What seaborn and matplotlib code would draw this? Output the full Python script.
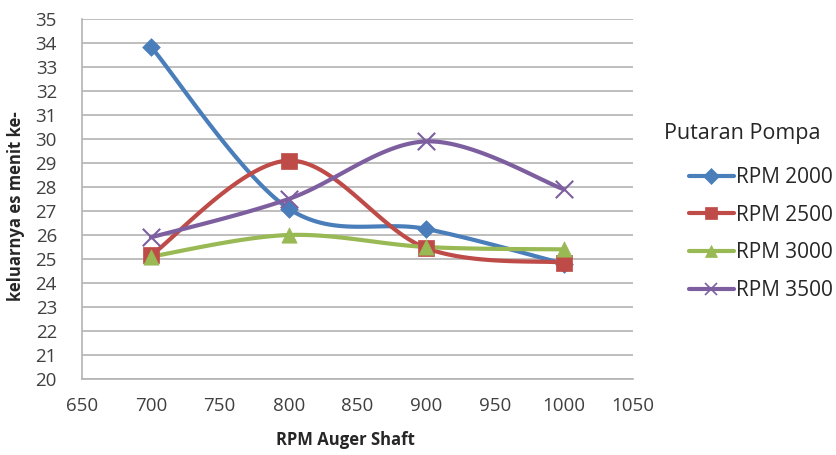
import numpy as np
import pandas as pd
import matplotlib
matplotlib.use("Agg")
import matplotlib.pyplot as plt
import seaborn as sns

x_vals = [700, 800, 900, 1000]
rpm2000 = [33.85, 27.1, 26.25, 24.8]
rpm2500 = [25.15, 29.1, 25.45, 24.85]
rpm3000 = [25.1, 26.0, 25.5, 25.4]
rpm3500 = [25.9, 27.5, 29.9, 27.9]
series_names = ["RPM 2000", "RPM 2500", "RPM 3000", "RPM 3500"]
x_ticks = [650, 700, 750, 800, 850, 900, 950, 1000, 1050]
y_ticks = list(range(20, 36))

colors = ["#4a7ebb", "#be4b48", "#98b954", "#7d5fa0"]
markers = ["D", "s", "^", "x"]
msizes = [9, 11, 11, 11]

sns.set_theme(style="white")
plt.rcParams['font.family'] = ['Open Sans', 'DejaVu Sans']


def smooth(xs, ys, n=40):
    # Excel-like smoothed line: cubic Bezier with Catmull-Rom control points
    P = np.column_stack([xs, ys]).astype(float)
    P = np.vstack([P[0], P, P[-1]])
    out = []
    for i in range(1, len(P) - 2):
        p0, p1, p2, p3 = P[i - 1], P[i], P[i + 1], P[i + 2]
        b1 = p1 + (p2 - p0) / 6.0
        b2 = p2 - (p3 - p1) / 6.0
        t = np.linspace(0, 1, n)[:, None]
        seg = ((1 - t) ** 3) * p1 + 3 * ((1 - t) ** 2) * t * b1 + 3 * (1 - t) * t ** 2 * b2 + t ** 3 * p2
        out.append(seg if i == 1 else seg[1:])
    c = np.vstack(out)
    return c[:, 0], c[:, 1]


fig = plt.figure(figsize=(8.37, 4.55), dpi=100)
ax = fig.add_axes([82 / 837, 1 - 379 / 455, (633 - 82) / 837, (379 - 19) / 455])

all_series = [rpm2000, rpm2500, rpm3000, rpm3500]
handles = []
for name, ys, col, mk, ms in zip(series_names, all_series, colors, markers, msizes):
    sx, sy = smooth(x_vals, ys)
    df_line = pd.DataFrame({"x": sx, "y": sy})
    sns.lineplot(data=df_line, x="x", y="y", ax=ax, color=col, linewidth=3,
                 sort=False, estimator=None)
    df_pts = pd.DataFrame({"x": x_vals, "y": ys})
    if mk == "x":
        sns.scatterplot(data=df_pts, x="x", y="y", ax=ax, marker="x", color=col,
                        s=ms ** 2 * 1.3, linewidth=1.5, zorder=5)
    else:
        sns.scatterplot(data=df_pts, x="x", y="y", ax=ax, marker=mk, color=col,
                        s=ms ** 2, edgecolor=col, linewidth=0.5, zorder=5)
    h, = ax.plot([], [], color=col, linewidth=3, marker=mk, markersize=ms * 0.85,
                 markeredgecolor=col, markeredgewidth=1.2 if mk == "x" else 0.5)
    handles.append(h)

ax.set_xlim(650, 1050)
ax.set_ylim(20, 35)
ax.set_xticks(x_ticks)
ax.set_yticks(y_ticks)
ax.set_xticklabels([str(v) for v in x_ticks], fontsize=13.5, color="#404040")
ax.set_yticklabels([str(v) for v in y_ticks], fontsize=13.5, color="#404040")
ax.tick_params(axis="both", length=0)
ax.tick_params(axis="x", pad=13)
ax.tick_params(axis="y", pad=18)
ax.yaxis.grid(True, color="#b3b3b3", linewidth=1.2)
ax.xaxis.grid(False)
for s in ["top", "right"]:
    ax.spines[s].set_visible(False)
for s in ["left", "bottom"]:
    ax.spines[s].set_color("#b3b3b3")
    ax.spines[s].set_linewidth(1.2)

ax.set_xlabel("RPM Auger Shaft", fontsize=12, fontweight="bold")
ax.set_ylabel("keluarnya es menit ke-", fontsize=12, fontweight="bold")
ax.xaxis.set_label_coords((345 - 82) / 551, -(440 - 379) / 360)
ax.yaxis.set_label_coords(-(82 - 16) / 551, (379 - 206) / 360)
ax.xaxis.label.set_va("center")
ax.yaxis.label.set_va("center")

fig.text(664 / 837, 1 - 133 / 455, "Putaran Pompa", fontsize=15.5,
         va="center", ha="left", color="#262626")
leg = fig.legend(handles, series_names,
                 loc="upper left", bbox_to_anchor=(689 / 837, 1 - 167 / 455),
                 frameon=False, fontsize=15, borderpad=0, borderaxespad=0,
                 labelspacing=0.8, handlelength=2.16, handletextpad=0.11)
for t in leg.get_texts():
    t.set_color("#262626")

fig.savefig("out.png", dpi=100)
